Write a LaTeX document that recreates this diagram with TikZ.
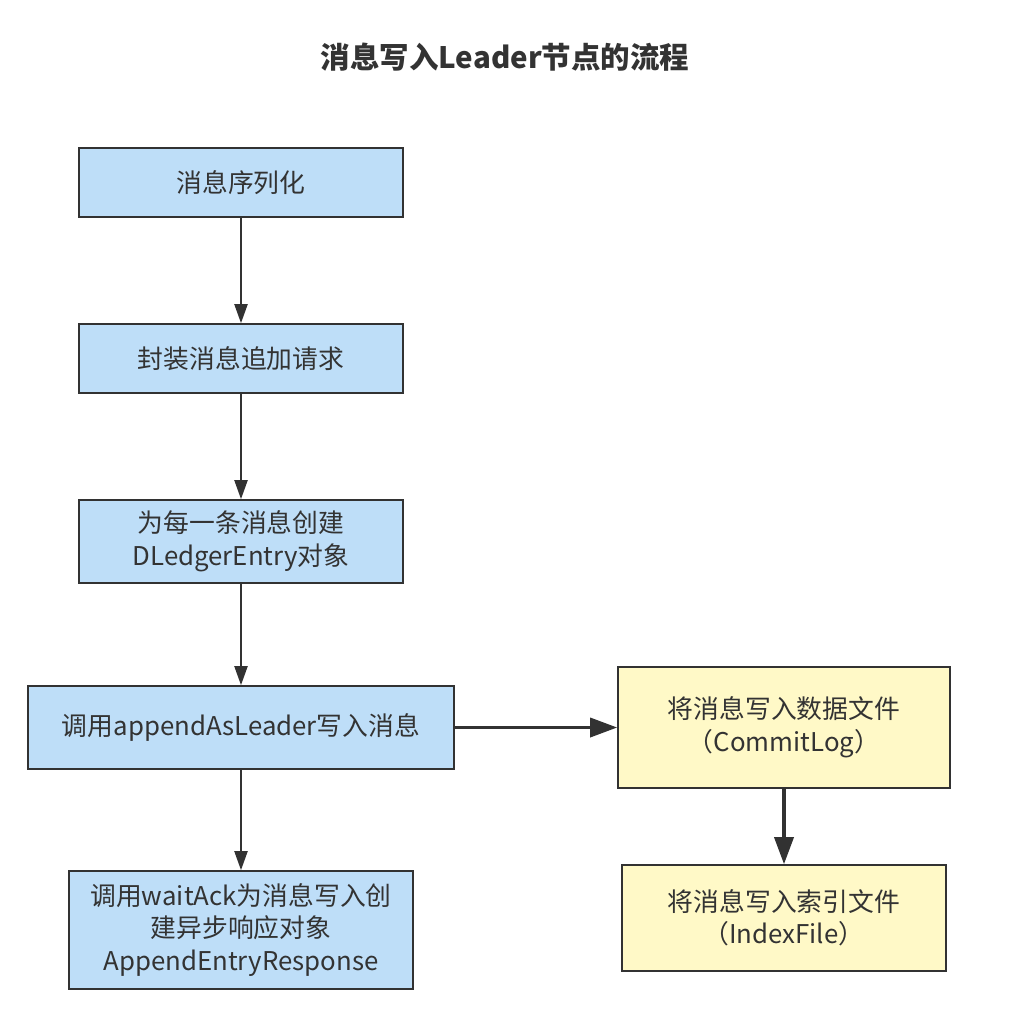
\documentclass[tikz,border=0pt]{standalone}
\usepackage{fontspec}
\setmainfont{Noto Sans CJK SC}
\usetikzlibrary{arrows.meta}
\definecolor{boxblue}{RGB}{190,222,248}
\definecolor{noteyellow}{RGB}{255,249,199}
\definecolor{linegray}{RGB}{50,50,50}
\definecolor{textgray}{RGB}{51,51,51}

\begin{document}
\begin{tikzpicture}[x=1pt, y=-1pt, every node/.style={font=\fontsize{25.8}{32.5}\selectfont, text=textgray, align=center, inner sep=0pt},
	stepbox/.style={draw=linegray, line width=1.6pt, fill=boxblue},
	filebox/.style={draw=linegray, line width=1.6pt, fill=noteyellow},
	flow/.style={draw=linegray, line width=2pt, -{Triangle[length=19pt, width=13pt]}},
	thickflow/.style={draw=linegray, line width=3.5pt, -{Triangle[length=27pt, width=19pt]}}]
	\useasboundingbox (0,0) rectangle (1018,1010);
	\node[font=\fontsize{29.5}{34}\selectfont\bfseries] (title) at (505,57) {消息写入Leader节点的流程};
	\node[stepbox, minimum width=324pt, minimum height=69pt] (serialize) at (241,182.5) {消息序列化};
	\node[stepbox, minimum width=324pt, minimum height=69pt] (wrapreq) at (241,358.5) {封装消息追加请求};
	\node[stepbox, minimum width=324pt, minimum height=83pt] (entry) at (241,541.5) {为每一条消息创建\\DLedgerEntry对象};
	\node[stepbox, minimum width=426pt, minimum height=83pt] (append) at (241,727.5) {调用appendAsLeader写入消息};
	\node[stepbox, minimum width=344pt, minimum height=118pt] (waitack) at (241,930) {调用waitAck为消息写入创\\建异步响应对象\\AppendEntryResponse};
	\node[filebox, minimum width=332pt, minimum height=121pt] (commitlog) at (784,727.5) {将消息写入数据文件\\（CommitLog）};
	\node[filebox, minimum width=324pt, minimum height=106pt] (indexfile) at (784,918) {将消息写入索引文件\\（IndexFile）};
	\draw[flow] (serialize) -- (wrapreq);
	\draw[flow] (wrapreq) -- (entry);
	\draw[flow] (entry) -- (append);
	\draw[flow] (append) -- (waitack);
	\draw[thickflow] (append) -- (commitlog);
	\draw[thickflow] (commitlog) -- (indexfile);
\end{tikzpicture}
\end{document}
